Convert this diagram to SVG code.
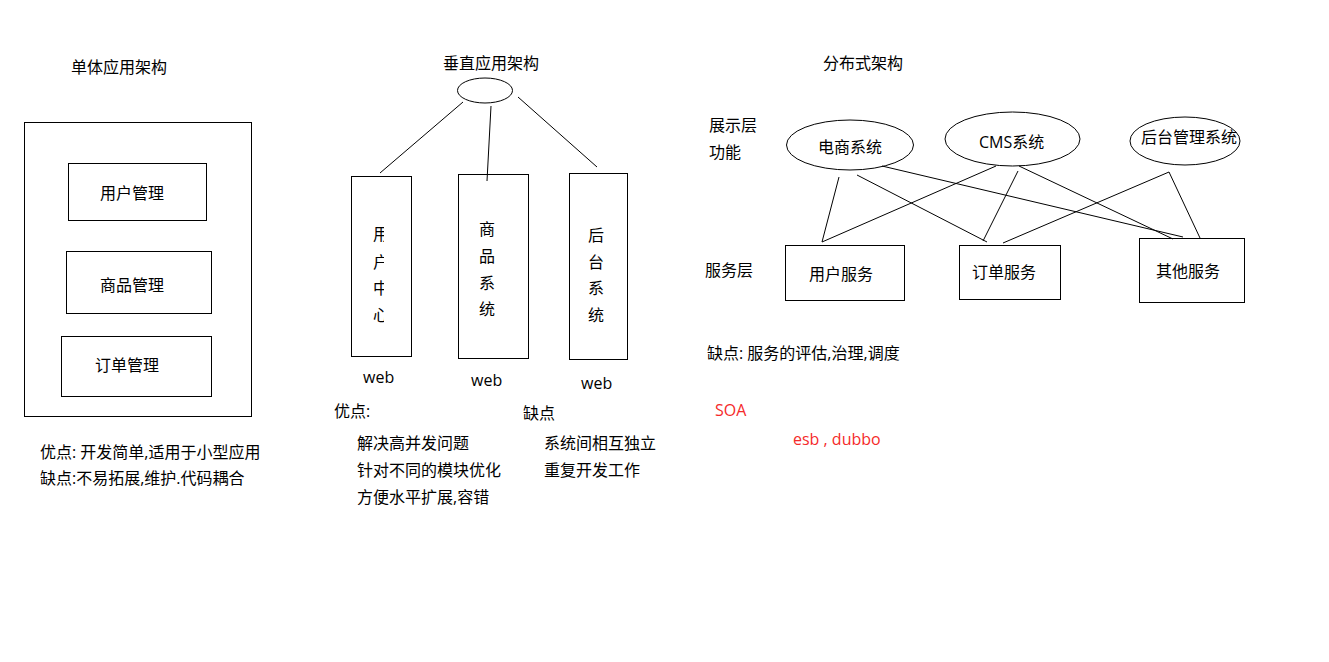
<svg xmlns="http://www.w3.org/2000/svg" width="1329" height="662" viewBox="0 0 1329 662">
<style>
text{font-family:"Open Sans","Noto Sans CJK SC",sans-serif;font-size:16px;fill:#000}
.red{fill:#f52a2a}
.mid{text-anchor:middle}
rect,ellipse{fill:none;stroke:#000;stroke-width:1}
line{stroke:#000;stroke-width:1}
</style>
<defs>
<clipPath id="clipUser"><rect x="340" y="170" width="44" height="200"/></clipPath>
</defs>
<rect x="0" y="0" width="1329" height="662" style="fill:#fff;stroke:none"/>

<!-- Monolithic -->
<g id="mono-title"><text x="71" y="73">单体应用架构</text></g>
<g id="mono-app"><rect x="24.5" y="122.5" width="227" height="294"/></g>
<g id="mono-user"><rect x="68.5" y="163.5" width="138" height="57"/><text x="100" y="199">用户管理</text></g>
<g id="mono-goods"><rect x="66.5" y="251.5" width="145" height="62"/><text x="100" y="291">商品管理</text></g>
<g id="mono-order"><rect x="61.5" y="336.5" width="150" height="60"/><text x="95" y="371">订单管理</text></g>
<g id="mono-notes">
<text x="40" y="458">优点: 开发简单,适用于小型应用</text>
<text x="40" y="484">缺点:不易拓展,维护.代码耦合</text>
</g>

<!-- Vertical -->
<g id="vert-title"><text x="443" y="69">垂直应用架构</text></g>
<g id="vert-root"><ellipse cx="485" cy="90.5" rx="27.5" ry="12.5"/></g>
<g id="vert-user">
<rect x="351.5" y="176.5" width="60" height="180"/>
<g clip-path="url(#clipUser)">
<text class="mid" x="381" y="240">用</text>
<text class="mid" x="381" y="268">户</text>
<text class="mid" x="381" y="294">中</text>
<text class="mid" x="381" y="321">心</text>
</g>
<text x="363" y="383">web</text>
</g>
<g id="vert-goods">
<rect x="458.5" y="174.5" width="70" height="184"/>
<text class="mid" x="487" y="235">商</text>
<text class="mid" x="487" y="262">品</text>
<text class="mid" x="487" y="289">系</text>
<text class="mid" x="487" y="315">统</text>
<text x="471" y="386">web</text>
</g>
<g id="vert-admin">
<rect x="569.5" y="173.5" width="58" height="186"/>
<text class="mid" x="596" y="241">后</text>
<text class="mid" x="596" y="268">台</text>
<text class="mid" x="596" y="294">系</text>
<text class="mid" x="596" y="321">统</text>
<text x="581" y="389">web</text>
</g>
<g id="vert-notes">
<text x="334" y="417">优点:</text>
<text x="523" y="419">缺点</text>
<text x="357" y="449">解决高并发问题</text>
<text x="357" y="476">针对不同的模块优化</text>
<text x="357" y="503">方便水平扩展,容错</text>
<text x="544" y="449">系统间相互独立</text>
<text x="544" y="476">重复开发工作</text>
</g>

<!-- Distributed -->
<g id="dist-title"><text x="823" y="69">分布式架构</text></g>
<g id="dist-labels">
<text x="709" y="131">展示层</text>
<text x="709" y="158">功能</text>
<text x="705" y="276">服务层</text>
</g>
<g id="dist-ecom"><ellipse cx="850" cy="145" rx="63.5" ry="25"/><text x="818" y="153">电商系统</text></g>
<g id="dist-cms"><ellipse cx="1012.5" cy="139" rx="67.5" ry="27"/><text x="979" y="148">CMS系统</text></g>
<g id="dist-admin"><ellipse cx="1185" cy="141" rx="55" ry="24"/><text x="1141" y="143">后台管理系统</text></g>
<g id="dist-usersvc"><rect x="785.5" y="245.5" width="119" height="55"/><text x="809" y="280">用户服务</text></g>
<g id="dist-ordersvc"><rect x="959.5" y="245.5" width="101" height="54"/><text x="972" y="278">订单服务</text></g>
<g id="dist-othersvc"><rect x="1139.5" y="238.5" width="105" height="64"/><text x="1156" y="277">其他服务</text></g>
<g id="dist-notes">
<text x="707" y="359">缺点: 服务的评估,治理,调度</text>
<text class="red" x="715" y="416">SOA</text>
<text class="red" x="793" y="445">esb , dubbo</text>
</g>

<g id="connectors">
<line x1="463" y1="102" x2="380" y2="173"/>
<line x1="491" y1="106" x2="487" y2="181"/>
<line x1="518" y1="97" x2="597" y2="167"/>
<line x1="839" y1="177" x2="822" y2="242"/>
<line x1="857" y1="175" x2="987" y2="242"/>
<line x1="882" y1="166" x2="1183" y2="237"/>
<line x1="996" y1="166" x2="822" y2="242"/>
<line x1="1018" y1="171" x2="983" y2="241"/>
<line x1="1019" y1="166" x2="1173" y2="239"/>
<line x1="1169" y1="172" x2="1003" y2="243"/>
<line x1="1169" y1="172" x2="1200" y2="238"/>
</g>
</svg>
